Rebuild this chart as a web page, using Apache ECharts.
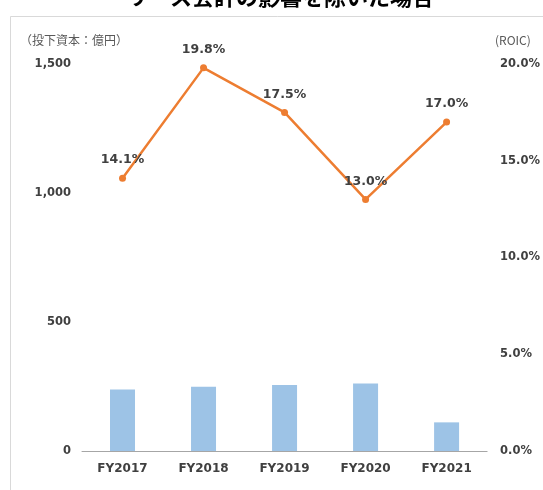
<!DOCTYPE html>
<html>
<head>
<meta charset="utf-8">
<script src="https://cdn.jsdelivr.net/npm/echarts@6/dist/echarts.min.js"></script>
<style>
  html, body { margin: 0; padding: 0; background: #fff; }
  #chart { width: 543px; height: 490px; }
</style>
</head>
<body>
<div id="chart"></div>
<script>
// Fiscal years on the category axis
const years = ['FY2017', 'FY2018', 'FY2019', 'FY2020', 'FY2021'];
// Invested capital (億円), bars on the left axis
const investedCapital = [238, 249, 256, 262, 111];
// ROIC (%), line on the right axis
const roic = [14.1, 19.8, 17.5, 13.0, 17.0];
// Axis ranges
const capitalTicks = { min: 0, max: 1500, interval: 500 };
const roicTicks = { min: 0, max: 20, interval: 5 };

const labelFont = '"DejaVu Sans", Verdana, sans-serif';
const cjkFont = '"Noto Sans CJK JP", sans-serif';
const textColor = '#404040';

const chart = echarts.init(document.getElementById('chart'), null, { renderer: 'canvas' });

chart.setOption({
  backgroundColor: '#ffffff',
  animation: false,
  graphic: [
    {
      type: 'rect',
      shape: { x: 10.5, y: 16.5, width: 600, height: 600 },
      style: { fill: 'none', stroke: '#d9d9d9', lineWidth: 1 },
      silent: true
    },
    {
      type: 'text',
      x: 280,
      y: -3,
      style: {
        text: 'リース会計の影響を除いた場合',
        font: 'bold 22px ' + cjkFont,
        fill: '#000',
        textAlign: 'center',
        textVerticalAlign: 'middle'
      }
    },
    {
      type: 'text',
      x: 20,
      y: 40,
      style: {
        text: '（投下資本：億円）',
        font: '12px ' + cjkFont,
        fill: '#595959',
        textAlign: 'left',
        textVerticalAlign: 'middle'
      }
    },
    {
      type: 'text',
      x: 495,
      y: 40,
      style: {
        text: '(ROIC)',
        font: '12px ' + cjkFont,
        fill: '#595959',
        textAlign: 'left',
        textVerticalAlign: 'middle'
      }
    }
  ],
  grid: { left: 82, right: 53, top: 64, bottom: 39, containLabel: false },
  xAxis: {
    type: 'category',
    data: years,
    boundaryGap: true,
    axisLine: { show: true, lineStyle: { color: '#a6a6a6', width: 1 } },
    axisTick: { show: false },
    axisLabel: {
      color: textColor,
      fontFamily: labelFont,
      fontWeight: 'bold',
      fontSize: 12,
      margin: 12
    },
    splitLine: { show: false }
  },
  yAxis: [
    {
      type: 'value',
      min: capitalTicks.min,
      max: capitalTicks.max,
      interval: capitalTicks.interval,
      axisLine: { show: false },
      axisTick: { show: false },
      splitLine: { show: false },
      axisLabel: {
        color: textColor,
        fontFamily: labelFont,
        fontWeight: 'bold',
        fontSize: 11.5,
        margin: 11,
        formatter: v => v.toLocaleString('en-US')
      }
    },
    {
      type: 'value',
      min: roicTicks.min,
      max: roicTicks.max,
      interval: roicTicks.interval,
      position: 'right',
      axisLine: { show: false },
      axisTick: { show: false },
      splitLine: { show: false },
      axisLabel: {
        color: textColor,
        fontFamily: labelFont,
        fontWeight: 'bold',
        fontSize: 11.5,
        margin: 13,
        formatter: v => v.toFixed(1) + '%'
      }
    }
  ],
  series: [
    {
      name: '投下資本',
      type: 'bar',
      yAxisIndex: 0,
      data: investedCapital,
      barWidth: 25,
      itemStyle: { color: '#9dc3e6' },
      z: 2
    },
    {
      name: 'ROIC',
      type: 'line',
      yAxisIndex: 1,
      data: roic,
      symbol: 'circle',
      symbolSize: 7,
      lineStyle: { color: '#ed7d31', width: 2.5 },
      itemStyle: { color: '#ed7d31' },
      label: {
        show: true,
        position: 'top',
        distance: 8,
        color: textColor,
        fontFamily: labelFont,
        fontWeight: 'bold',
        fontSize: 12.5,
        formatter: p => p.value.toFixed(1) + '%'
      },
      z: 3
    }
  ]
});
</script>
</body>
</html>
